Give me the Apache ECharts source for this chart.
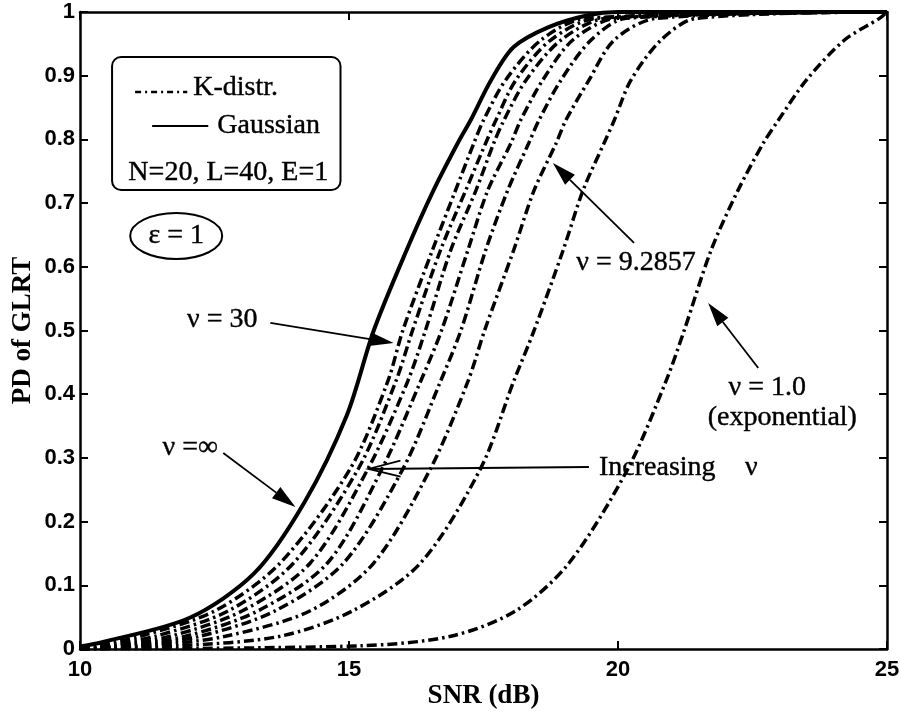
<!DOCTYPE html>
<html>
<head>
<meta charset="utf-8">
<title>PD of GLRT vs SNR</title>
<script src="https://cdn.jsdelivr.net/npm/echarts@6/dist/echarts.min.js"></script>
<style>
  html, body { margin: 0; padding: 0; background: #fff; }
  #chart { width: 901px; height: 715px; }
</style>
</head>
<body>
<div id="chart"></div>
<script>
// Axis ticks
const xTicks = [10, 15, 20, 25];
const yTicks = [0, 0.1, 0.2, 0.3, 0.4, 0.5, 0.6, 0.7, 0.8, 0.9, 1];

// Gaussian clutter (nu = infinity): SNR (dB) and probability of detection
const gaussSnr = [10, 10.43, 12.04, 13.24, 14.17, 14.96, 15.46, 16.07, 16.57, 17.02, 17.26, 17.64, 18.06, 18.70, 19.44, 20, 25];
const gaussPd  = [0.004, 0.011, 0.049, 0.119, 0.23, 0.367, 0.5, 0.626, 0.72, 0.794, 0.83, 0.893, 0.945, 0.976, 0.995, 1, 1];

// K-distributed clutter: SNR (dB) at which each curve reaches these PD levels
const kPd = [0, 0.005, 0.02, 0.06, 0.135, 0.284, 0.42, 0.5, 0.626, 0.72, 0.794, 0.83, 0.893, 0.956, 0.99, 1];
const kSnrNu30 = [10, 10.28, 11.12, 12.51, 13.72, 15.03, 15.72, 16.00, 16.55, 16.98, 17.32, 17.50, 17.91, 18.57, 19.40, 25];
const kSnr2    = [10, 10.47, 11.40, 12.76, 13.97, 15.18, 15.87, 16.18, 16.70, 17.17, 17.54, 17.73, 18.10, 18.75, 19.59, 25];
const kSnr3    = [10, 10.65, 11.68, 13.02, 14.28, 15.36, 16.09, 16.42, 16.89, 17.36, 17.69, 17.88, 18.29, 18.94, 19.78, 25];
const kSnr4    = [10, 10.84, 11.96, 13.31, 14.60, 15.62, 16.33, 16.72, 17.21, 17.58, 18.01, 18.19, 18.60, 19.16, 19.96, 25];
const kSnr5    = [10, 11.02, 12.23, 13.63, 14.90, 16.01, 16.70, 17.08, 17.54, 17.95, 18.34, 18.53, 18.94, 19.50, 20.15, 25];
const kSnrNu9  = [10, 11.30, 12.70, 14.28, 15.46, 16.52, 17.21, 17.52, 18.06, 18.44, 18.85, 19.03, 19.46, 19.93, 20.71, 25];
const kSnr7    = [10, 11.86, 13.72, 15.07, 16.33, 17.45, 18.06, 18.44, 18.98, 19.35, 19.74, 19.93, 20.24, 20.80, 21.45, 25];
const kSnrNu1  = [10, 15.21, 16.89, 18.10, 19.09, 20.19, 20.89, 21.23, 21.73, 22.23, 22.70, 22.98, 23.50, 24.21, 24.86, 25];

const kCurves = [
  { name: 'K-distr. ν = 30', snr: kSnrNu30 },
  { name: 'K-distr. 2', snr: kSnr2 },
  { name: 'K-distr. 3', snr: kSnr3 },
  { name: 'K-distr. 4', snr: kSnr4 },
  { name: 'K-distr. 5', snr: kSnr5 },
  { name: 'K-distr. ν = 9.2857', snr: kSnrNu9 },
  { name: 'K-distr. 7', snr: kSnr7 },
  { name: 'K-distr. ν = 1.0', snr: kSnrNu1 }
];

const SERIF = '"Liberation Serif", "Times New Roman", serif';
const SANS = '"Liberation Sans", Arial, sans-serif';
const DASH_DOT = [10, 4, 2.5, 4];

const chart = echarts.init(document.getElementById('chart'), null, { renderer: 'canvas' });

const xMin = xTicks[0], xMax = xTicks[xTicks.length - 1], xStep = xTicks[1] - xTicks[0];
const yMin = yTicks[0], yMax = yTicks[yTicks.length - 1], yStep = yTicks[1] - yTicks[0];

const frameLine = { show: true, onZero: false, lineStyle: { color: '#000', width: 2.5 } };
const innerTick = { show: true, inside: true, length: 8, lineStyle: { color: '#000', width: 2 } };
const tickFont = { color: '#000', fontFamily: SANS, fontWeight: 'bold', fontSize: 22 };
const titleFont = { color: '#000', fontFamily: SERIF, fontWeight: 'bold', fontSize: 27 };

const series = [
  {
    name: 'Gaussian',
    type: 'line',
    data: gaussSnr.map((s, i) => [s, gaussPd[i]]),
    symbol: 'none',
    smooth: 0.3,
    lineStyle: { color: '#000', width: 4, type: 'solid' },
    z: 3
  }
].concat(kCurves.map(c => ({
  name: c.name,
  type: 'line',
  data: c.snr.map((s, i) => [s, kPd[i]]),
  symbol: 'none',
  smooth: 0.3,
  lineStyle: { color: '#000', width: 3.5, type: DASH_DOT, cap: 'butt' },
  z: 2
})));

chart.setOption({
  animation: false,
  backgroundColor: '#fff',
  grid: { left: 80, right: 14, top: 12, bottom: 66, containLabel: false, outerBoundsMode: 'none' },
  xAxis: [
    {
      type: 'value', min: xMin, max: xMax, interval: xStep, position: 'bottom',
      axisLine: frameLine, axisTick: innerTick,
      axisLabel: Object.assign({ margin: 10 }, tickFont),
      splitLine: { show: false },
      name: 'SNR (dB)', nameLocation: 'middle', nameGap: 34, nameMoveOverlap: false, nameTextStyle: titleFont
    },
    {
      type: 'value', min: xMin, max: xMax, interval: xStep, position: 'top',
      axisLine: frameLine, axisTick: innerTick, axisLabel: { show: false }, splitLine: { show: false }
    }
  ],
  yAxis: [
    {
      type: 'value', min: yMin, max: yMax, interval: yStep, position: 'left',
      axisLine: frameLine, axisTick: innerTick,
      axisLabel: Object.assign({ margin: 5, formatter: v => String(+v.toFixed(1)) }, tickFont),
      splitLine: { show: false }
    },
    {
      type: 'value', min: yMin, max: yMax, interval: yStep, position: 'right',
      axisLine: frameLine, axisTick: innerTick, axisLabel: { show: false }, splitLine: { show: false }
    }
  ],
  series: series
});

// ---- annotations, anchored in data coordinates ----
const toPx = (p) => chart.convertToPixel({ xAxisIndex: 0, yAxisIndex: 0 }, p);

function text(str, at, align, size) {
  const p = toPx(at);
  return {
    type: 'text', x: p[0], y: p[1], z: 10,
    style: {
      text: str, fill: '#000', font: (size || 28) + 'px ' + SERIF,
      align: align || 'center', textAlign: align || 'center',
      verticalAlign: 'middle', textVerticalAlign: 'middle',
      stroke: '#000', lineWidth: 0.4
    }
  };
}

function arrow(from, to, open) {
  const a = toPx(from), b = toPx(to);
  const dx = b[0] - a[0], dy = b[1] - a[1];
  const len = Math.hypot(dx, dy);
  const ux = dx / len, uy = dy / len;
  const hl = open ? 32 : 24, hw = open ? 8 : 7;
  const bx = b[0] - ux * hl, by = b[1] - uy * hl;
  const p1 = [bx - uy * hw, by + ux * hw], p2 = [bx + uy * hw, by - ux * hw];
  const els = [{
    type: 'line', z: 10,
    shape: { x1: a[0], y1: a[1], x2: open ? b[0] : bx, y2: open ? b[1] : by },
    style: { stroke: '#000', lineWidth: 1.8 }
  }];
  if (open) {
    els.push({ type: 'polyline', z: 10, shape: { points: [p1, b, p2] }, style: { stroke: '#000', lineWidth: 1.8, fill: 'none' } });
  } else {
    els.push({ type: 'polygon', z: 10, shape: { points: [b, p1, p2] }, style: { fill: '#000' } });
  }
  return els;
}

// y-axis title, centred on the middle of the value range, left of the tick labels
const yMid = toPx([xMin, (yMin + yMax) / 2]);
const yTitle = {
  type: 'text', x: yMid[0] - 57, y: yMid[1], rotation: Math.PI / 2, z: 10,
  style: {
    text: 'PD of GLRT', fill: '#000', font: 'bold 27px ' + SERIF,
    align: 'center', textAlign: 'center', verticalAlign: 'middle', textVerticalAlign: 'middle'
  }
};

// legend panel
const boxTL = toPx([10.596, 0.9294]), boxBR = toPx([14.842, 0.7206]);
const s1a = toPx([11.024, 0.8807]), s1b = toPx([11.993, 0.8807]);
const s2a = toPx([11.341, 0.8210]), s2b = toPx([12.384, 0.8210]);
const ell = toPx([11.788, 0.6484]);

const graphics = [
  yTitle,
  {
    type: 'rect', z: 9,
    shape: { x: boxTL[0], y: boxTL[1], width: boxBR[0] - boxTL[0], height: boxBR[1] - boxTL[1], r: 9 },
    style: { fill: '#fff', stroke: '#000', lineWidth: 2 }
  },
  { type: 'line', z: 10, shape: { x1: s1a[0], y1: s1a[1] + 4, x2: s1b[0], y2: s1b[1] + 4 },
    style: { stroke: '#000', lineWidth: 2.5, lineDash: [6, 4, 2, 4] } },
  text('K-distr.', [12.104, 0.8807], 'left'),
  { type: 'line', z: 10, shape: { x1: s2a[0], y1: s2a[1], x2: s2b[0], y2: s2b[1] },
    style: { stroke: '#000', lineWidth: 2 } },
  text('Gaussian', [12.551, 0.8210], 'left'),
  text('N=20, L=40, E=1', [12.756, 0.7473], 'center'),
  { type: 'ellipse', z: 10, shape: { cx: ell[0], cy: ell[1], rx: 46, ry: 23 },
    style: { fill: 'none', stroke: '#000', lineWidth: 2 } },
  text('ε = 1', [11.788, 0.6484], 'center'),
  text('ν = 30', [12.644, 0.5165], 'center'),
  text('ν =∞', [12.048, 0.3155], 'center'),
  text('ν = 9.2857', [20.335, 0.6060], 'center'),
  text('ν = 1.0', [22.775, 0.4097], 'center'),
  text('(exponential)', [23.054, 0.3626], 'center'),
  text('Increasing', [19.646, 0.2841], 'left'),
  text('ν', [22.477, 0.2841], 'center')
]
  .concat(arrow([13.538, 0.5118], [15.829, 0.4804]))
  .concat(arrow([12.663, 0.3077], [14.004, 0.2229]))
  .concat(arrow([20.298, 0.6374], [18.790, 0.7630]))
  .concat(arrow([22.607, 0.4411], [21.676, 0.5432]))
  .concat(arrow([19.460, 0.2857], [15.363, 0.2826], true));

chart.setOption({ graphic: graphics });
</script>
</body>
</html>
